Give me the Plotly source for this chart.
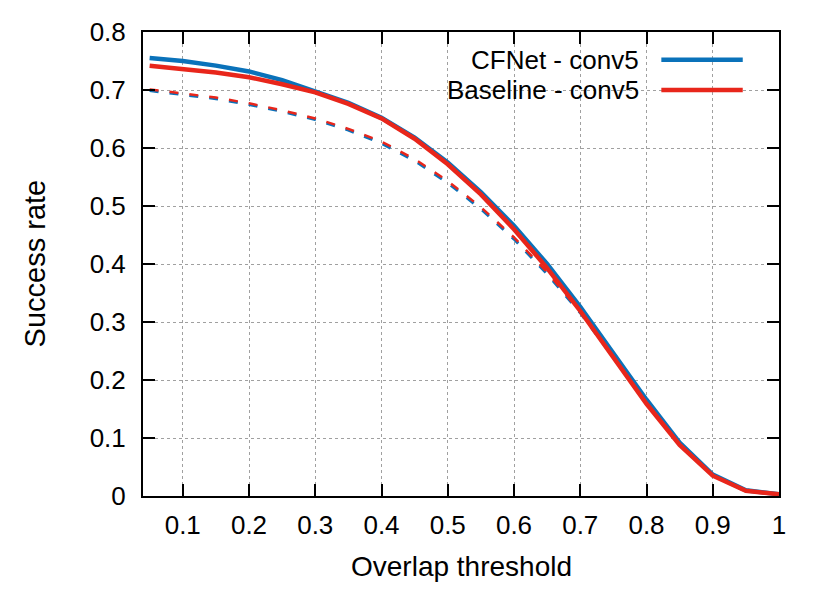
import plotly.graph_objects as go

thresholds = [0.05, 0.1, 0.15, 0.2, 0.25, 0.3, 0.35, 0.4, 0.45, 0.5,
              0.55, 0.6, 0.65, 0.7, 0.75, 0.8, 0.85, 0.9, 0.95, 1.0]

cfnet_conv5 = [0.755, 0.750, 0.742, 0.732, 0.717, 0.698, 0.678, 0.652, 0.618, 0.575,
               0.524, 0.466, 0.400, 0.326, 0.246, 0.166, 0.092, 0.037, 0.010, 0.003]
baseline_conv5 = [0.742, 0.736, 0.730, 0.722, 0.710, 0.696, 0.676, 0.651, 0.616, 0.572,
                  0.520, 0.460, 0.393, 0.319, 0.239, 0.159, 0.088, 0.035, 0.009, 0.003]
cfnet_dashed = [0.699, 0.692, 0.685, 0.675, 0.663, 0.649, 0.631, 0.608, 0.578, 0.540,
                0.495, 0.443, 0.383, 0.316, 0.240, 0.162, 0.090, 0.036, 0.009, 0.003]
baseline_dashed = [0.701, 0.694, 0.687, 0.677, 0.665, 0.651, 0.633, 0.611, 0.581, 0.543,
                   0.498, 0.446, 0.386, 0.318, 0.241, 0.162, 0.090, 0.036, 0.009, 0.003]

blue = '#0a72ba'
red = '#e8261b'
font = 'Liberation Sans, Arial, Helvetica, sans-serif'

fig = go.Figure()
fig.add_trace(go.Scatter(x=thresholds, y=cfnet_dashed, mode='lines',
                         line=dict(color=blue, width=3, dash='9px,11px'), showlegend=False))
fig.add_trace(go.Scatter(x=thresholds, y=baseline_dashed, mode='lines',
                         line=dict(color=red, width=2.5, dash='9px,11px'), showlegend=False))
fig.add_trace(go.Scatter(x=thresholds, y=cfnet_conv5, mode='lines',
                         line=dict(color=blue, width=4.5), showlegend=False))
fig.add_trace(go.Scatter(x=thresholds, y=baseline_conv5, mode='lines',
                         line=dict(color=red, width=4.5), showlegend=False))

# gnuplot-style key: opaque box, text on the left, sample line on the right
fig.add_shape(type='rect', xref='paper', yref='paper', x0=0.428, x1=0.97, y0=0.853, y1=0.975,
              fillcolor='white', line_width=0, layer='below')
for label, color, yp in [('CFNet - conv5', blue, 0.94), ('Baseline - conv5', red, 0.875)]:
    fig.add_annotation(x=0.783, y=yp, xref='paper', yref='paper', text=label, showarrow=False,
                       xanchor='right', yanchor='middle', font=dict(size=26, color='black', family=font))
    fig.add_shape(type='line', xref='paper', yref='paper', x0=0.815, x1=0.943, y0=yp, y1=yp,
                  line=dict(color=color, width=4.5))

# axis titles
fig.add_annotation(x=0.5, y=-0.151, xref='paper', yref='paper', text='Overlap threshold',
                   showarrow=False, xanchor='center', yanchor='middle',
                   font=dict(size=28, color='black', family=font))
fig.add_annotation(x=-0.170, y=0.501, xref='paper', yref='paper', text='Success rate',
                   showarrow=False, xanchor='center', yanchor='middle', textangle=-90,
                   font=dict(size=29, color='black', family=font))

axis_common = dict(showline=True, linecolor='black', linewidth=2, mirror='ticks',
                   ticks='inside', ticklen=12, tickwidth=2, tickcolor='black',
                   showgrid=True, gridcolor='#a0a0a0', gridwidth=1, griddash='dot',
                   zeroline=False, automargin=False,
                   tickfont=dict(size=26, color='black', family=font))

fig.update_xaxes(range=[0.04, 1.0], tickvals=[0.1, 0.2, 0.3, 0.4, 0.5, 0.6, 0.7, 0.8, 0.9, 1.0],
                 ticktext=['0.1', '0.2', '0.3', '0.4', '0.5', '0.6', '0.7', '0.8', '0.9', '1'],
                 ticklabelstandoff=5, **axis_common)
fig.update_yaxes(range=[0, 0.8], tickvals=[0, 0.1, 0.2, 0.3, 0.4, 0.5, 0.6, 0.7, 0.8],
                 ticktext=['0', '0.1', '0.2', '0.3', '0.4', '0.5', '0.6', '0.7', '0.8'],
                 ticklabelstandoff=10, **axis_common)

# page body keeps an 8px margin, so the figure is shrunk to fit the window
fig.update_layout(width=814, height=575, margin=dict(l=135, r=43, t=24, b=87),
                  plot_bgcolor='white', paper_bgcolor='white', showlegend=False)

fig.write_html('out.html')
